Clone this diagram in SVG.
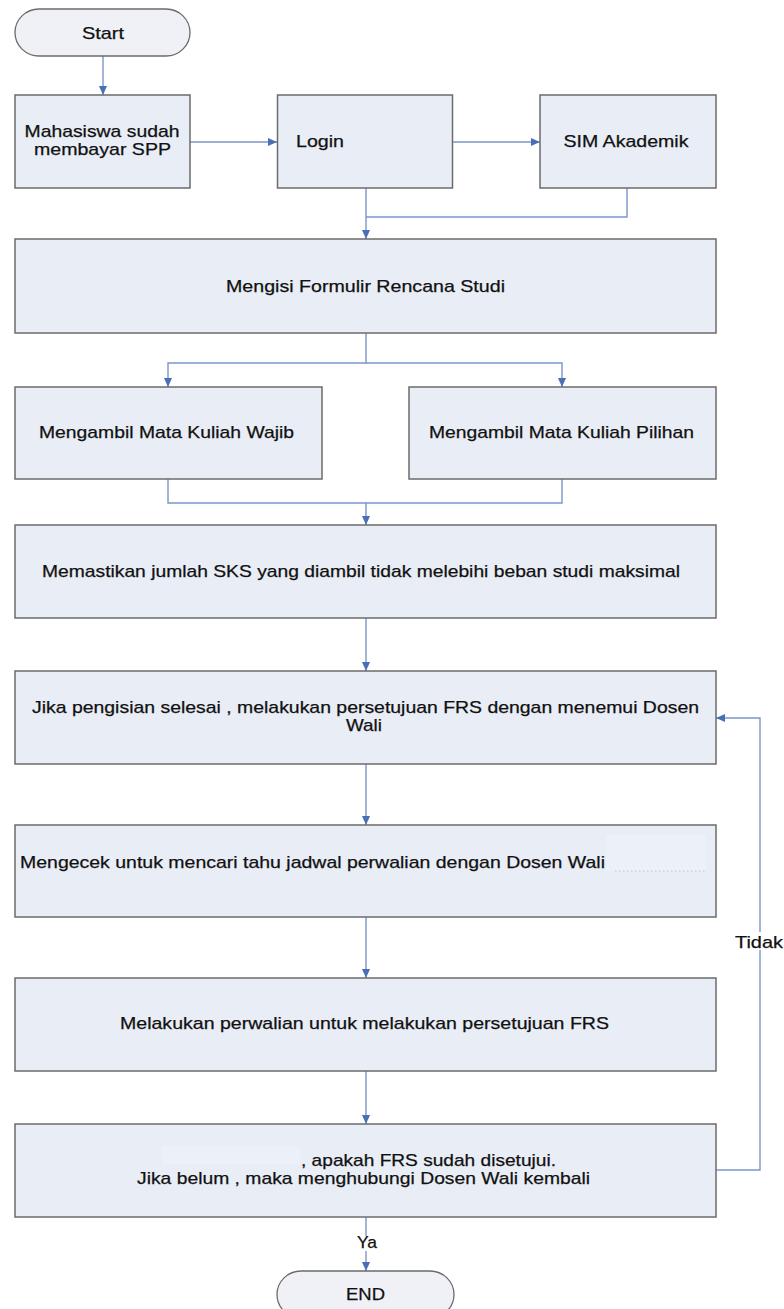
<svg xmlns="http://www.w3.org/2000/svg" width="784" height="1309" viewBox="0 0 784 1309">
  <defs>
    <marker id="ah" markerUnits="userSpaceOnUse" markerWidth="10" markerHeight="9" refX="9" refY="4" orient="auto">
      <path d="M0,0 L9,4 L0,8 z" fill="#4A6FB5"/>
    </marker>
    <style>
      .box { fill: #E9EDF6; stroke: #6B6B6B; stroke-width: 1.5; }
      .term { fill: #EFF1F6; stroke: #6B6B6B; stroke-width: 1.3; }
      .t { font-family: "Liberation Sans", Arial, sans-serif; font-size: 17px; fill: #111111; stroke: #111111; stroke-width: 0.25; }
      .m { text-anchor: middle; }
      .c { fill: none; stroke: #7B96C9; stroke-width: 1.4; }
      .patch { fill: #ECF0F8; }
    </style>
  </defs>
  <rect width="784" height="1309" fill="#FFFFFF"/>

  <g id="connectors">
    <path class="c" d="M103 56 V95" marker-end="url(#ah)"/>
    <path class="c" d="M190 142 H277" marker-end="url(#ah)"/>
    <path class="c" d="M453 142 H540" marker-end="url(#ah)"/>
    <path class="c" d="M366 188 V239" marker-end="url(#ah)"/>
    <path class="c" d="M627 188 V217 H366"/>
    <path class="c" d="M366 333 V363 H168 V387" marker-end="url(#ah)"/>
    <path class="c" d="M366 363 H562 V387" marker-end="url(#ah)"/>
    <path class="c" d="M168 479 V503 H366 V525" marker-end="url(#ah)"/>
    <path class="c" d="M562 479 V503 H366"/>
    <path class="c" d="M366 618 V671" marker-end="url(#ah)"/>
    <path class="c" d="M366 764 V825" marker-end="url(#ah)"/>
    <path class="c" d="M366 917 V978" marker-end="url(#ah)"/>
    <path class="c" d="M366 1071 V1124" marker-end="url(#ah)"/>
    <path class="c" d="M366 1217 V1271" marker-end="url(#ah)"/>
    <path class="c" d="M716 1170 H760 V718 H716" marker-end="url(#ah)"/>
    <rect x="356" y="1236" width="22" height="15" fill="#FFFFFF"/>
    <text class="t m" x="367" y="1248" textLength="20" lengthAdjust="spacingAndGlyphs">Ya</text>
    <rect x="736" y="932" width="46" height="18" fill="#FFFFFF"/>
    <text class="t" x="735" y="948" textLength="48" lengthAdjust="spacingAndGlyphs">Tidak</text>
  </g>

  <g id="start">
    <rect class="term" x="15" y="9" width="175" height="47" rx="24" ry="23.5"/>
    <text class="t m" x="103" y="39" textLength="42" lengthAdjust="spacingAndGlyphs">Start</text>
  </g>

  <g id="mahasiswa">
    <rect class="box" x="15" y="95" width="175" height="93"/>
    <text class="t m" x="102" y="137" textLength="155" lengthAdjust="spacingAndGlyphs">Mahasiswa sudah</text>
    <text class="t m" x="102.5" y="155" textLength="137" lengthAdjust="spacingAndGlyphs">membayar SPP</text>
  </g>

  <g id="login">
    <rect class="box" x="277.5" y="95" width="175" height="93"/>
    <text class="t" x="296" y="147" textLength="48" lengthAdjust="spacingAndGlyphs">Login</text>
  </g>

  <g id="sim">
    <rect class="box" x="540" y="95" width="176" height="93"/>
    <text class="t m" x="626" y="147" textLength="125" lengthAdjust="spacingAndGlyphs">SIM Akademik</text>
  </g>

  <g id="mengisi">
    <rect class="box" x="15" y="239" width="701" height="94"/>
    <text class="t m" x="365.5" y="292" textLength="279" lengthAdjust="spacingAndGlyphs">Mengisi Formulir Rencana Studi</text>
  </g>

  <g id="wajib">
    <rect class="box" x="15" y="387" width="307" height="92"/>
    <text class="t m" x="166.5" y="438" textLength="255" lengthAdjust="spacingAndGlyphs">Mengambil Mata Kuliah Wajib</text>
  </g>

  <g id="pilihan">
    <rect class="box" x="409" y="387" width="307" height="92"/>
    <text class="t m" x="561.5" y="438" textLength="265" lengthAdjust="spacingAndGlyphs">Mengambil Mata Kuliah Pilihan</text>
  </g>

  <g id="memastikan">
    <rect class="box" x="15" y="525" width="701" height="93"/>
    <text class="t m" x="361" y="577" textLength="638" lengthAdjust="spacingAndGlyphs">Memastikan jumlah SKS yang diambil tidak melebihi beban studi maksimal</text>
  </g>

  <g id="jika">
    <rect class="box" x="15" y="671" width="701" height="93"/>
    <text class="t m" x="365.5" y="713" textLength="667" lengthAdjust="spacingAndGlyphs">Jika pengisian selesai , melakukan persetujuan FRS dengan menemui Dosen</text>
    <text class="t m" x="364" y="731" textLength="36" lengthAdjust="spacingAndGlyphs">Wali</text>
  </g>

  <g id="mengecek">
    <rect class="box" x="15" y="825" width="701" height="92"/>
    <rect class="patch" x="606" y="835" width="100" height="36"/>
    <line x1="615" y1="871" x2="705" y2="871" stroke="#C4C4C4" stroke-width="1" stroke-dasharray="1.5 2.5"/>
    <text class="t" x="20" y="868" textLength="585" lengthAdjust="spacingAndGlyphs">Mengecek untuk mencari tahu jadwal perwalian dengan Dosen Wali</text>
  </g>

  <g id="melakukan">
    <rect class="box" x="15" y="978" width="701" height="93"/>
    <text class="t m" x="364.5" y="1029" textLength="489" lengthAdjust="spacingAndGlyphs">Melakukan perwalian untuk melakukan persetujuan FRS</text>
  </g>

  <g id="apakah">
    <rect class="box" x="15" y="1124" width="701" height="93"/>
    <rect class="patch" x="162" y="1146" width="138" height="18"/>
    <text class="t" x="301" y="1166" textLength="255" lengthAdjust="spacingAndGlyphs">, apakah FRS sudah disetujui.</text>
    <text class="t m" x="363.5" y="1184" textLength="453" lengthAdjust="spacingAndGlyphs">Jika belum , maka menghubungi Dosen Wali kembali</text>
  </g>

  <g id="end">
    <rect class="term" x="277" y="1271" width="177" height="47" rx="24" ry="23.5"/>
    <text class="t m" x="365.5" y="1300" textLength="39" lengthAdjust="spacingAndGlyphs">END</text>
  </g>
</svg>
